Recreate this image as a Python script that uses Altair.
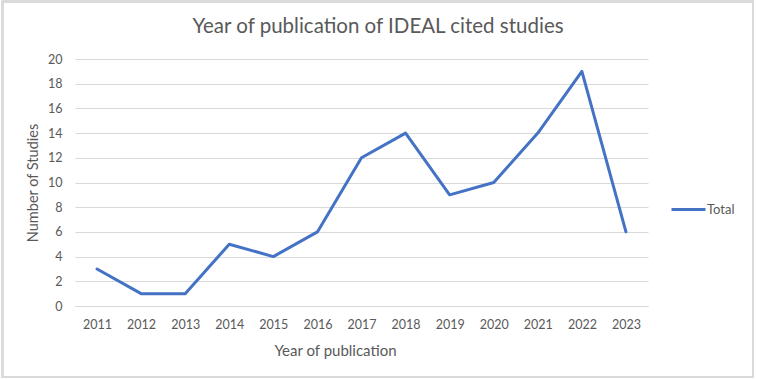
import altair as alt
import pandas as pd

years = ["2011", "2012", "2013", "2014", "2015", "2016", "2017", "2018", "2019", "2020", "2021", "2022", "2023"]
counts = [3, 1, 1, 5, 4, 6, 12, 14, 9, 10, 14, 19, 6]
series = ["Total"] * len(years)
y_ticks = [0, 2, 4, 6, 8, 10, 12, 14, 16, 18, 20]
chart_title = "Year of publication of IDEAL cited studies"

df = pd.DataFrame({"year": years, "count": counts, "series": series})

FONT = "Lato"
TXT = "#595959"
GRID = "#D9D9D9"
BLUE = "#4472C4"

line = alt.Chart(df).mark_line(strokeWidth=3, strokeCap="round", strokeJoin="round").encode(
    x=alt.X("year:N", sort=years,
            scale=alt.Scale(type="point", padding=0.5),
            axis=alt.Axis(title="Year of publication", labelAngle=0, grid=False, ticks=False,
                          domain=True, domainColor=GRID, domainWidth=1,
                          labelColor=TXT, labelFont=FONT, labelFontSize=12.5, labelPadding=12,
                          titleColor=TXT, titleFont=FONT, titleFontSize=15, titleFontWeight="normal",
                          titleX=260, titleY=44, titleAlign="center", titleBaseline="middle")),
    y=alt.Y("count:Q", scale=alt.Scale(domain=[0, 20], nice=False),
            axis=alt.Axis(title="Number of Studies", values=y_ticks, grid=True, gridColor=GRID, gridWidth=1,
                          domain=False, ticks=False,
                          labelColor=TXT, labelFont=FONT, labelFontSize=12.5, labelPadding=13,
                          titleColor=TXT, titleFont=FONT, titleFontSize=14.5, titleFontWeight="normal",
                          titleX=-42, titleY=123.5, titleAngle=270, titleAlign="center", titleBaseline="middle")),
    color=alt.Color("series:N", scale=alt.Scale(range=[BLUE]),
                    legend=alt.Legend(title=None, orient="none", legendX=595, legendY=132,
                                      symbolType="stroke", symbolSize=1156, symbolStrokeWidth=3,
                                      labelColor=TXT, labelFont=FONT, labelFontSize=13, labelOffset=0)),
)

border = alt.Chart(df).mark_rect(fill=None, stroke=GRID, strokeWidth=1.5).encode(
    x=alt.value(-72.5), x2=alt.value(678), y=alt.value(-57.5), y2=alt.value(318)
)

title = alt.Chart(pd.DataFrame({"t": [chart_title]})).mark_text(
    font=FONT, fontSize=20.5, color=TXT, align="center", baseline="alphabetic"
).encode(text="t:N", x=alt.value(303), y=alt.value(-26))

chart = alt.layer(border, line, title).properties(
    width=573, height=247,
    background="white",
    autosize=alt.AutoSizeParams(type="none"),
    padding={"left": 75, "top": 59, "right": 109, "bottom": 73},
).configure_view(strokeWidth=0)

chart.save("out.html", embed_options={"renderer": "svg", "actions": False})
